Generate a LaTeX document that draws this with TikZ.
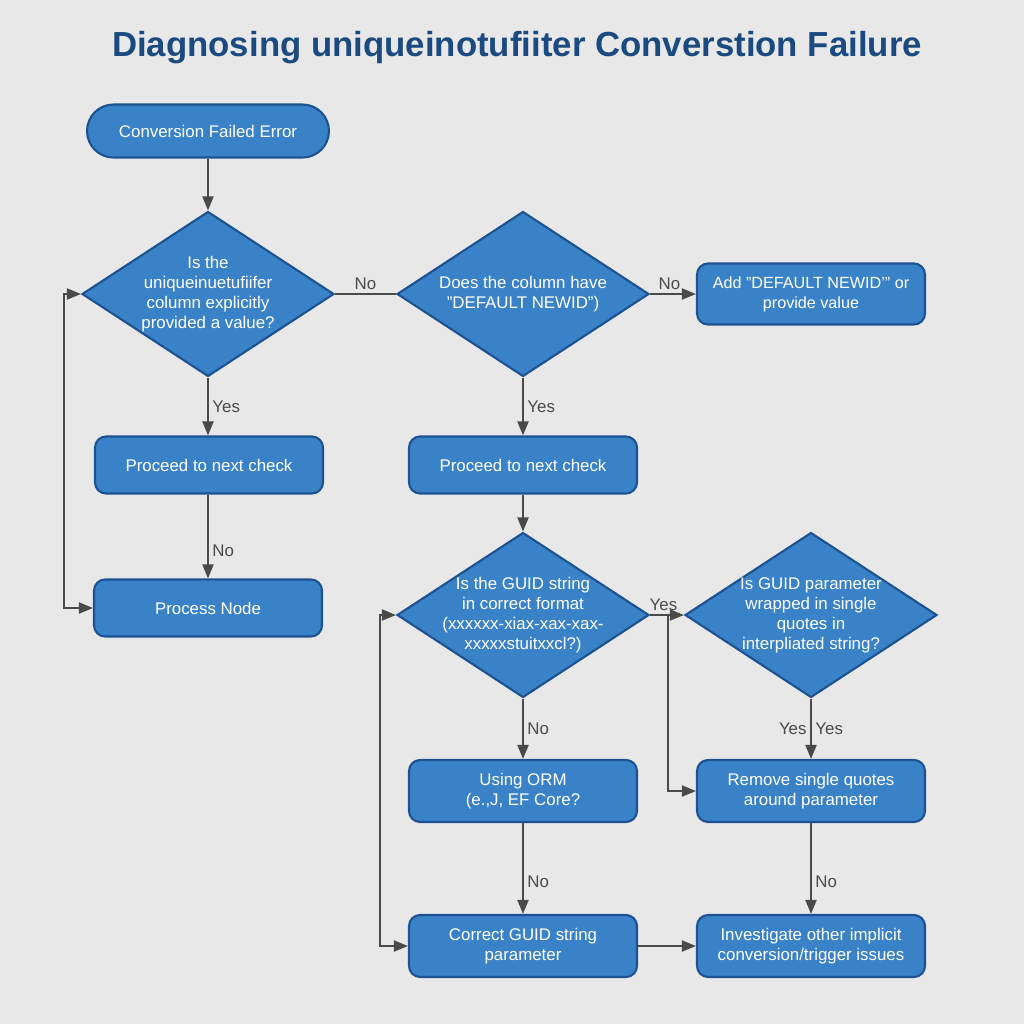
\documentclass[tikz,border=0pt]{standalone}
\usepackage{fontspec}
\setmainfont{Liberation Sans}
\usetikzlibrary{shapes.geometric,arrows.meta}

\definecolor{bgc}{HTML}{E8E8E8}
\definecolor{boxfill}{HTML}{3A82C8}
\definecolor{boxline}{HTML}{1C5291}
\definecolor{linec}{HTML}{4A4A4A}
\definecolor{titlec}{HTML}{1B4A80}

\begin{document}
\begin{tikzpicture}[x=0.02cm, y=-0.02cm,
	box/.style={draw=boxline, line width=1.2pt, fill=boxfill, rounded corners=0.22cm,
		text=white, align=center, minimum width=4.56cm, minimum height=1.18cm, inner sep=0pt,
		font=\fontsize{9.6}{11.5}\selectfont},
	pill/.style={box, rounded corners=0.53cm, minimum width=4.84cm, minimum height=1.06cm},
	dia/.style={diamond, draw=boxline, line width=1.2pt, fill=boxfill, inner sep=0pt,
		minimum width=5.04cm, minimum height=3.3cm},
	dtxt/.style={text=white, align=center, inner sep=0pt, font=\fontsize{9.6}{11.4}\selectfont},
	lbl/.style={text=linec, font=\fontsize{9.6}{11.5}\selectfont, inner sep=2pt},
	arr/.style={draw=linec, line width=1.1pt, -{Triangle[length=0.28cm, width=0.22cm]}},
	arr2/.style={arr, {Triangle[length=0.28cm, width=0.22cm]}-{Triangle[length=0.28cm, width=0.22cm]}},
	ln/.style={draw=linec, line width=1.1pt}]

	\fill[bgc] (0,0) rectangle (1024,1024);
	\useasboundingbox (0,0) rectangle (1024,1024);

	\node[text=titlec, font=\fontsize{19.8}{22}\selectfont\bfseries] (title) at (517,48)
		{Diagnosing uniqueinotufiiter Converstion Failure};

	% left column
	\node[pill] (start) at (208,131) {Conversion Failed Error};
	\node[dia, label={[dtxt]center:{Is the\\uniqueinuetufiifer\\column explicitly\\provided a value?}}] (d1) at (208,294) {};
	\node[box, minimum height=1.14cm] (p1) at (209,465) {Proceed to next check};
	\node[box, minimum height=1.14cm] (pn) at (208,608) {Process Node};

	% middle column
	\node[dia, label={[dtxt]center:{Does the column have\\"DEFAULT NEWID")}}] (d2) at (523,294) {};
	\node[box, minimum height=1.14cm] (p2) at (523,465) {Proceed to next check};
	\node[dia, label={[dtxt]center:{Is the GUID string\\in correct format\\(xxxxxx-xiax-xax-xax-\\xxxxxstuitxxcl?)}}] (d3) at (523,615) {};
	\node[box, minimum height=1.24cm] (orm) at (523,791) {Using ORM\\(e.,J, EF Core?};
	\node[box, minimum height=1.24cm] (fix) at (523,946) {Correct GUID string\\parameter};

	% right column
	\node[box, minimum height=1.22cm, font=\fontsize{9.2}{11.5}\selectfont] (add) at (811,294) {Add "DEFAULT NEWID'" or\\provide value};
	\node[dia, label={[dtxt]center:{Is GUID parameter\\wrapped in single\\quotes in\\interpliated string?}}] (d4) at (811,615) {};
	\node[box, minimum height=1.24cm] (rm) at (811,791) {Remove single quotes\\around parameter};
	\node[box, minimum height=1.24cm] (inv) at (811,946) {Investigate other implicit\\conversion/trigger issues};

	\coordinate (yesfork) at (668,615);

	% connectors
	\draw[arr] (start) -- (d1);
	\draw[ln] (d1.east) -- node[lbl, above] {No} (d2.west);
	\draw[arr] (d2.east) -- node[lbl, above, xshift=-2pt] {No} (add.west);
	\draw[arr] (d1.south) -- node[lbl, right] {Yes} (p1.north -| d1.south);
	\draw[arr] (p1.south -| pn.north) -- node[lbl, right, pos=.67] {No} (pn.north);
	\draw[arr2] (d1.west) -- ++(-17,0) |- (pn.west);
	\draw[arr] (d2.south) -- node[lbl, right] {Yes} (p2.north);
	\draw[arr] (p2) -- (d3);
	\draw[arr] (d3.east) -- node[lbl, above, xshift=-2pt] {Yes} (d4.west);
	\draw[arr] (yesfork) |- (rm.west);
	\draw[arr] (d4.south) -- node[lbl, left] {Yes} node[lbl, right] {Yes} (rm.north);
	\draw[arr] (d3.south) -- node[lbl, right] {No} (orm.north);
	\draw[arr] (orm) -- node[lbl, right, pos=.65] {No} (fix);
	\draw[arr] (rm) -- node[lbl, right, pos=.65] {No} (inv);
	\draw[arr] (fix) -- (inv);
	\draw[arr2] (d3.west) -- ++(-16,0) |- (fix.west);
\end{tikzpicture}
\end{document}
